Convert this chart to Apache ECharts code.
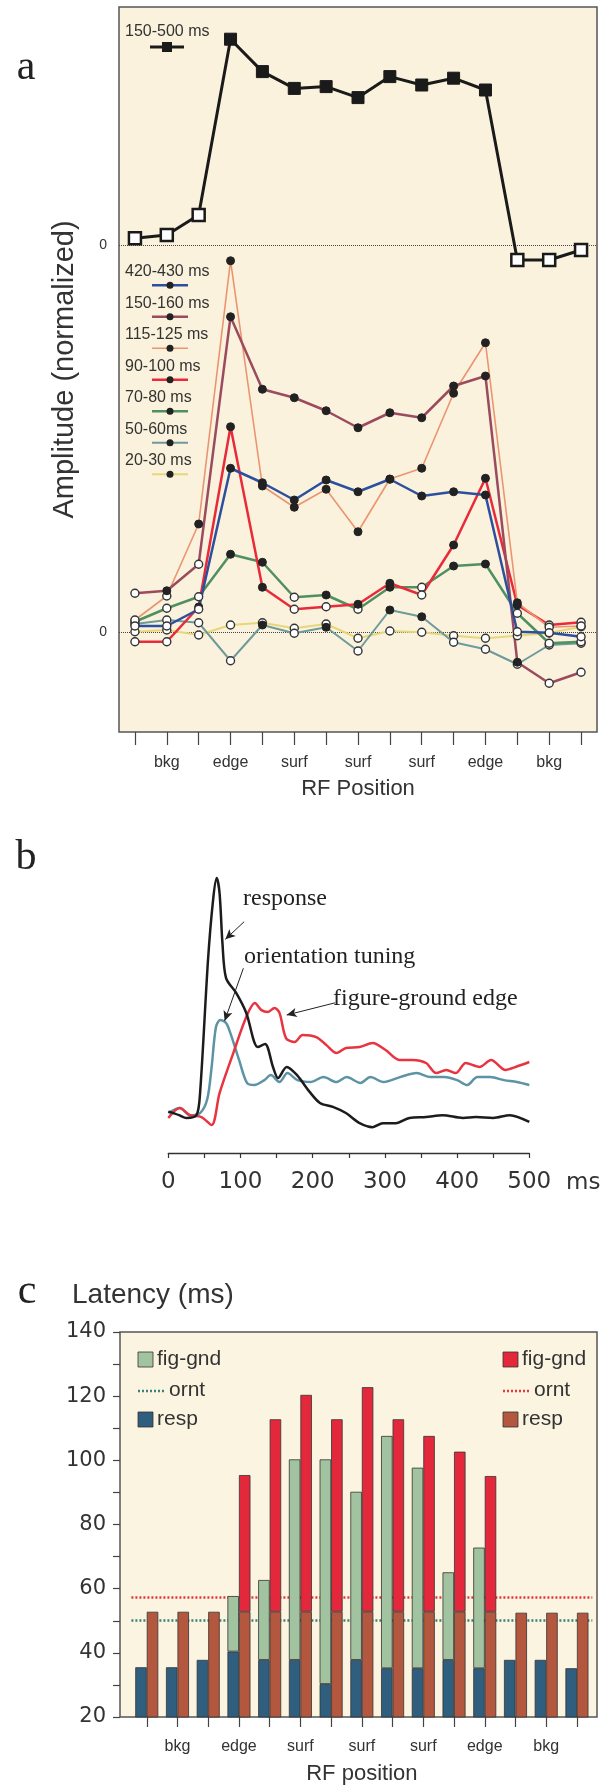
<!DOCTYPE html>
<html>
<head>
<meta charset="utf-8">
<script src="https://cdn.jsdelivr.net/npm/echarts@6.0.0/dist/echarts.min.js"></script>
<style>
  html, body { margin: 0; background: #fff; }
  #main { width: 613px; height: 1787px; }
</style>
</head>
<body>
<div id="main"></div>
<script>
// ---- panel a : amplitude per RF position ----
var positions = ['', 'bkg', '', 'edge', '', 'surf', '', 'surf', '', 'surf', '', 'edge', '', 'bkg', ''];

var amp150_500 = [0.034, 0.05, 0.15, 1.029, 0.867, 0.783, 0.792, 0.737, 0.842, 0.8, 0.834, 0.775, -0.075, -0.075, -0.025];
var sig150_500 = [0, 0, 0, 1, 1, 1, 1, 1, 1, 1, 1, 1, 0, 0, 0];

var amp420 = [0.024, 0.024, 0.091, 0.655, 0.597, 0.528, 0.608, 0.561, 0.611, 0.544, 0.561, 0.548, 0.001, -0.003, -0.019];
var sig420 = [0, 0, 0, 1, 1, 1, 1, 1, 1, 1, 1, 1, 0, 0, 0];
var amp150 = [0.155, 0.165, 0.271, 1.261, 0.971, 0.937, 0.885, 0.817, 0.877, 0.857, 0.984, 1.024, -0.121, -0.205, -0.161];
var sig150 = [0, 1, 0, 1, 1, 1, 1, 1, 1, 1, 1, 1, 1, 0, 0];
var amp115 = [0.048, 0.144, 0.432, 1.485, 0.584, 0.499, 0.571, 0.401, 0.612, 0.655, 0.955, 1.157, 0.117, 0.019, 0.024];
var sig115 = [0, 0, 1, 1, 1, 1, 1, 1, 1, 1, 1, 1, 1, 0, 0];
var amp90 = [-0.039, -0.039, 0.1, 0.821, 0.179, 0.091, 0.101, 0.111, 0.195, 0.148, 0.348, 0.615, 0.108, 0.028, 0.039];
var sig90 = [0, 0, 1, 1, 1, 0, 0, 1, 1, 0, 1, 1, 1, 0, 0];
var amp70 = [0.041, 0.095, 0.141, 0.311, 0.279, 0.139, 0.148, 0.091, 0.179, 0.179, 0.264, 0.272, 0.075, -0.045, -0.039];
var sig70 = [0, 0, 0, 1, 1, 0, 1, 0, 1, 0, 1, 1, 0, 0, 0];
var amp50 = [0.032, 0.048, 0.037, -0.115, 0.028, -0.005, 0.019, -0.076, 0.088, 0.061, -0.041, -0.069, -0.129, -0.052, -0.045];
var sig50 = [0, 0, 0, 0, 1, 0, 1, 0, 1, 1, 0, 0, 0, 0, 0];
var amp20 = [0.001, 0.008, -0.012, 0.028, 0.037, 0.015, 0.032, -0.025, 0.004, -0.001, -0.015, -0.025, -0.015, -0.004, 0.021];
var sig20 = [0, 0, 0, 0, 0, 0, 0, 0, 0, 0, 0, 0, 0, 0, 0];

// ---- panel b : time courses ----
var respT = [0, 15, 25, 39, 44, 55, 62, 67, 71, 75, 80, 94, 108, 124, 134, 145, 152, 164, 178, 196, 210, 228, 246, 265, 283, 297, 315, 334, 357, 380, 408, 426, 450, 473, 500];
var respV = [0.006, -0.009, -0.021, -0.009, 0.085, 0.651, 0.906, 1.0, 0.936, 0.723, 0.574, 0.511, 0.426, 0.281, 0.294, 0.196, 0.149, 0.196, 0.162, 0.089, 0.043, 0.026, 0, -0.043, -0.06, -0.043, -0.043, -0.021, -0.017, -0.009, -0.021, -0.017, -0.021, -0.009, -0.038];
var orientT = [0, 16, 30, 44, 54, 60, 66, 72, 80, 86, 98, 109, 119, 133, 142, 154, 165, 179, 197, 215, 233, 247, 266, 280, 298, 321, 344, 363, 382, 400, 414, 428, 446, 465, 483, 500];
var orientV = [0, 0.021, -0.009, 0, 0.06, 0.196, 0.366, 0.396, 0.383, 0.34, 0.226, 0.128, 0.119, 0.14, 0.162, 0.132, 0.17, 0.14, 0.132, 0.153, 0.132, 0.153, 0.128, 0.153, 0.132, 0.153, 0.17, 0.153, 0.153, 0.14, 0.119, 0.153, 0.153, 0.14, 0.132, 0.119];
var edgeT = [0, 16, 30, 46, 60, 71, 90, 108, 120, 129, 138, 147, 154, 163, 175, 186, 205, 219, 233, 246, 265, 283, 301, 320, 338, 357, 371, 385, 398, 412, 431, 447, 467, 481, 500];
var edgeV = [-0.021, 0.021, -0.009, -0.017, -0.051, 0.085, 0.255, 0.409, 0.468, 0.438, 0.43, 0.447, 0.426, 0.319, 0.302, 0.332, 0.323, 0.289, 0.255, 0.277, 0.281, 0.298, 0.268, 0.226, 0.226, 0.213, 0.17, 0.183, 0.17, 0.213, 0.196, 0.226, 0.183, 0.196, 0.217];
var timeTicks = [0, 100, 200, 300, 400, 500];

// ---- panel c : latencies (ms) ----
var respLeft = [35.5, 35.5, 37.8, 40.4, 37.8, 37.8, 30.3, 37.8, 35.2, 35.2, 37.8, 35.2, 37.8, 37.8, 35.2];
var figGndLeft = [null, null, null, 57.7, 62.7, 100.3, 100.3, 90.2, 107.6, 97.7, 65.1, 72.8, null, null, null];
var respRight = [52.8, 52.8, 52.8, 52.8, 52.8, 52.8, 52.8, 52.8, 52.8, 52.8, 52.8, 52.8, 52.5, 52.5, 52.5];
var figGndRight = [null, null, null, 95.4, 112.8, 120.4, 112.8, 122.8, 112.8, 107.6, 102.7, 95.1, null, null, null];
var orntLeft = 50.2;
var orntRight = 57.3;

var FONT = 'Liberation Sans, Arial, sans-serif';
var ROUND = 'DejaVu Sans, sans-serif';
var SERIF = 'Liberation Serif, Times New Roman, serif';

var lowerSets = [
    { name: '420-430 ms', data: amp420, sig: sig420, color: '#2c4f9e', width: 2.5 },
    { name: '150-160 ms', data: amp150, sig: sig150, color: '#9b4b5e', width: 2.5 },
    { name: '115-125 ms', data: amp115, sig: sig115, color: '#ea9470', width: 1.6 },
    { name: '90-100 ms', data: amp90, sig: sig90, color: '#e82a3a', width: 2.5 },
    { name: '70-80 ms', data: amp70, sig: sig70, color: '#4f8f60', width: 2.5 },
    { name: '50-60ms', data: amp50, sig: sig50, color: '#6e9a9c', width: 2 },
    { name: '20-30 ms', data: amp20, sig: sig20, color: '#e6d77a', width: 2 }
];

function circles(vals, sig) {
    return vals.map(function (v, i) {
        return {
            value: v,
            itemStyle: sig[i] ? { color: '#222', borderColor: '#222', borderWidth: 1 }
                              : { color: '#fff', borderColor: '#333', borderWidth: 1.4 }
        };
    });
}

var zeroLine = {
    silent: true, z: 1, symbol: ['none', 'none'], label: { show: false },
    lineStyle: { type: 'dotted', color: '#444', width: 1 },
    data: [{ yAxis: 0 }]
};

var series = [];
// black 150-500 ms trace on the upper scale
series.push({
    name: '150-500 ms', type: 'line', xAxisIndex: 0, yAxisIndex: 0, z: 5,
    symbol: 'rect', symbolSize: 12,
    lineStyle: { color: '#1a1a1a', width: 3 },
    data: amp150_500.map(function (v, i) {
        return {
            value: v,
            itemStyle: sig150_500[i] ? { color: '#1a1a1a', borderColor: '#1a1a1a', borderWidth: 1 }
                                     : { color: '#fff', borderColor: '#1a1a1a', borderWidth: 2.5 }
        };
    }),
    markLine: zeroLine
});
// lower traces drawn bottom-up
lowerSets.slice().reverse().forEach(function (s, k) {
    series.push({
        name: s.name, type: 'line', xAxisIndex: 0, yAxisIndex: 1, z: 3,
        symbol: 'circle', symbolSize: 8,
        lineStyle: { color: s.color, width: s.width },
        data: circles(s.data, s.sig),
        markLine: k === 0 ? zeroLine : undefined
    });
});

function pairs(t, v) { return t.map(function (x, i) { return [x, v[i]]; }); }
var arrowLine = {
    silent: true, symbol: ['none', 'arrow'], symbolSize: [7, 10], label: { show: false },
    lineStyle: { color: '#222', width: 1, type: 'solid' },
    data: [
        [{ coord: [105, 0.814] }, { coord: [79, 0.739] }],
        [{ coord: [104, 0.616] }, { coord: [78, 0.392] }],
        [{ coord: [231, 0.469] }, { coord: [164, 0.417] }]
    ]
};
series.push({
    name: 'orientation tuning', type: 'line', xAxisIndex: 1, yAxisIndex: 2, smooth: 0.3,
    showSymbol: false, lineStyle: { color: '#5c94a4', width: 2.5 }, data: pairs(orientT, orientV)
});
series.push({
    name: 'figure-ground edge', type: 'line', xAxisIndex: 1, yAxisIndex: 2, smooth: 0.3,
    showSymbol: false, lineStyle: { color: '#e8343f', width: 2.5 }, data: pairs(edgeT, edgeV)
});
series.push({
    name: 'response', type: 'line', xAxisIndex: 1, yAxisIndex: 2, smooth: 0.3,
    showSymbol: false, lineStyle: { color: '#1c1c1c', width: 2.5 }, data: pairs(respT, respV),
    markLine: arrowLine
});

// panel c: ornt reference lines sit behind the bars
series.push({
    name: 'ornt', type: 'line', xAxisIndex: 2, yAxisIndex: 3, z: 1, data: [],
    markLine: {
        silent: true, z: 1, symbol: ['none', 'none'], label: { show: false },
        data: [
            { yAxis: orntRight, lineStyle: { color: '#e0383c', type: [2, 2], width: 2.5 } },
            { yAxis: orntLeft, lineStyle: { color: '#3d7f7b', type: [2, 2], width: 2.5 } }
        ]
    }
});
var barBorder = { borderColor: '#333', borderWidth: 0.8 };
function diff(top, base) { return top.map(function (v, i) { return v == null ? '-' : +(v - base[i]).toFixed(2); }); }
series.push({ name: 'resp L', type: 'bar', stack: 'L', xAxisIndex: 2, yAxisIndex: 3, z: 3, barWidth: 11.5,
    itemStyle: Object.assign({ color: '#2f5e7e' }, barBorder), data: respLeft });
series.push({ name: 'fig-gnd L', type: 'bar', stack: 'L', xAxisIndex: 2, yAxisIndex: 3, z: 3, barWidth: 11.5,
    itemStyle: Object.assign({ color: '#a2c3a0' }, barBorder), data: diff(figGndLeft, respLeft) });
series.push({ name: 'resp R', type: 'bar', stack: 'R', xAxisIndex: 2, yAxisIndex: 3, z: 3, barWidth: 11.5,
    itemStyle: Object.assign({ color: '#b3573e' }, barBorder), data: respRight });
series.push({ name: 'fig-gnd R', type: 'bar', stack: 'R', xAxisIndex: 2, yAxisIndex: 3, z: 3, barWidth: 11.5, barGap: 0,
    itemStyle: Object.assign({ color: '#e4283b' }, barBorder), data: diff(figGndRight, respRight) });

// ---- hand-placed labels and legends ----
var graphic = [];
function txt(s, x, y, size, family, align, color) {
    graphic.push({ type: 'text', z: 10, style: { text: s, x: x, y: y, fontSize: size, fontFamily: family,
        textAlign: align || 'left', textVerticalAlign: 'middle', fill: color || '#333' } });
}
txt('a', 26, 68, 42, SERIF, 'center', '#222');
txt('b', 26, 858, 42, SERIF, 'center', '#222');
txt('c', 27, 1292, 42, SERIF, 'center', '#222');

// panel a legend
txt('150-500 ms', 125, 32, 16, FONT);
graphic.push({ type: 'line', z: 10, shape: { x1: 150, y1: 47, x2: 184, y2: 47 }, style: { stroke: '#1a1a1a', lineWidth: 3 } });
graphic.push({ type: 'rect', z: 10, shape: { x: 162, y: 42, width: 10, height: 10 }, style: { fill: '#1a1a1a' } });
lowerSets.forEach(function (s, i) {
    var ty = 271.7 + i * 31.5;
    txt(s.name, 125, ty, 16, FONT);
    graphic.push({ type: 'line', z: 10, shape: { x1: 152, y1: ty + 13.5, x2: 188, y2: ty + 13.5 }, style: { stroke: s.color, lineWidth: s.width } });
    graphic.push({ type: 'circle', z: 11, shape: { cx: 170, cy: ty + 13.5, r: 3.5 }, style: { fill: '#222' } });
});

// panel b annotations
txt('response', 243, 899, 24, SERIF, 'left', '#222');
txt('orientation tuning', 244, 957, 24, SERIF, 'left', '#222');
txt('figure-ground edge', 333, 999, 24, SERIF, 'left', '#222');
txt('ms', 566, 1183, 23, ROUND, 'left', '#333');

// panel c frame, title, legends
graphic.push({ type: 'rect', z: -1, shape: { x: 120, y: 1332, width: 477, height: 385 },
    style: { fill: '#fbf4e0', stroke: '#555', lineWidth: 1.5 } });
txt('Latency (ms)', 72, 1295, 28, FONT);
function swatch(x, y, color) {
    graphic.push({ type: 'rect', z: 10, shape: { x: x, y: y, width: 15, height: 15 }, style: { fill: color, stroke: '#333', lineWidth: 0.8 } });
}
function dots(x1, x2, y, color) {
    graphic.push({ type: 'line', z: 10, shape: { x1: x1, y1: y, x2: x2, y2: y }, style: { stroke: color, lineWidth: 2.5, lineDash: [2, 2] } });
}
swatch(138, 1352, '#a2c3a0'); txt('fig-gnd', 157, 1359, 21, FONT);
dots(138, 166, 1391, '#3d7f7b'); txt('ornt', 169, 1390, 21, FONT);
swatch(138, 1412, '#2f5e7e'); txt('resp', 157, 1419, 21, FONT);
swatch(503, 1352, '#e4283b'); txt('fig-gnd', 522, 1359, 21, FONT);
dots(503, 531, 1391, '#e0383c'); txt('ornt', 534, 1390, 21, FONT);
swatch(503, 1412, '#b3573e'); txt('resp', 522, 1419, 21, FONT);

var option = {
    backgroundColor: '#fff',
    animation: false,
    grid: [
        { left: 119, right: 16, top: 7, height: 725, show: true, backgroundColor: '#faf2dc', borderColor: '#555', borderWidth: 1.5 },
        { left: 168.3, right: 83.7, top: 854.5, height: 298.5 },
        { left: 131.4, right: 20.7, top: 1332, height: 385 }
    ],
    xAxis: [
        {
            gridIndex: 0, type: 'category', data: positions, boundaryGap: true,
            axisLine: { show: false, onZero: false },
            axisTick: { show: true, alignWithLabel: true, interval: 0, length: 13, lineStyle: { color: '#444', width: 1.2 } },
            axisLabel: { interval: 0, margin: 23, fontSize: 16, fontFamily: FONT, color: '#333' },
            name: 'RF Position', nameLocation: 'middle', nameGap: 46,
            nameTextStyle: { fontSize: 22, fontFamily: FONT, color: '#333' }
        },
        {
            gridIndex: 1, type: 'value', min: 0, max: 500, interval: 50,
            axisLine: { show: true, onZero: false, lineStyle: { color: '#333', width: 1.3 } },
            axisTick: { show: true, length: 5, lineStyle: { color: '#333', width: 1.2 } },
            axisLabel: {
                margin: 18, fontSize: 23, fontFamily: ROUND, color: '#333',
                formatter: function (v) { return timeTicks.indexOf(v) >= 0 ? String(v) : ''; }
            },
            splitLine: { show: false }
        },
        {
            gridIndex: 2, type: 'category', data: positions, boundaryGap: true,
            axisLine: { show: false, onZero: false },
            axisTick: { show: true, alignWithLabel: true, interval: 0, length: 10, lineStyle: { color: '#444', width: 1.2 } },
            axisLabel: { interval: 0, margin: 22, fontSize: 16, fontFamily: FONT, color: '#333' },
            name: 'RF position', nameLocation: 'middle', nameGap: 46,
            nameTextStyle: { fontSize: 22, fontFamily: FONT, color: '#333' }
        }
    ],
    yAxis: [
        {
            gridIndex: 0, type: 'value', position: 'left', min: -2.435, max: 1.19,
            axisLine: { show: false }, axisTick: { show: false }, splitLine: { show: false },
            axisLabel: { customValues: [0], margin: 12, fontSize: 14, fontFamily: FONT, color: '#333' },
            name: 'Amplitude (normalized)', nameLocation: 'middle', nameGap: 40,
            nameTextStyle: { fontSize: 29, fontFamily: FONT, color: '#333' }
        },
        {
            gridIndex: 0, type: 'value', position: 'left', min: -0.4, max: 2.5,
            axisLine: { show: false }, axisTick: { show: false }, splitLine: { show: false },
            axisLabel: { customValues: [0], margin: 12, fontSize: 14, fontFamily: FONT, color: '#333' }
        },
        {
            gridIndex: 1, type: 'value', min: -0.17, max: 1.1, show: false
        },
        {
            gridIndex: 2, type: 'value', min: 20, max: 140, interval: 10, offset: 11.4,
            axisLine: { show: false }, splitLine: { show: false },
            axisTick: { show: true, length: 7, lineStyle: { color: '#444', width: 1.2 } },
            axisLabel: {
                margin: 14, fontSize: 21, fontFamily: ROUND, color: '#333',
                formatter: function (v) { return v % 20 === 0 ? String(v) : ''; }
            }
        }
    ],
    graphic: graphic,
    series: series
};

var chart = echarts.init(document.getElementById('main'));
chart.setOption(option, true);
</script>
</body>
</html>
